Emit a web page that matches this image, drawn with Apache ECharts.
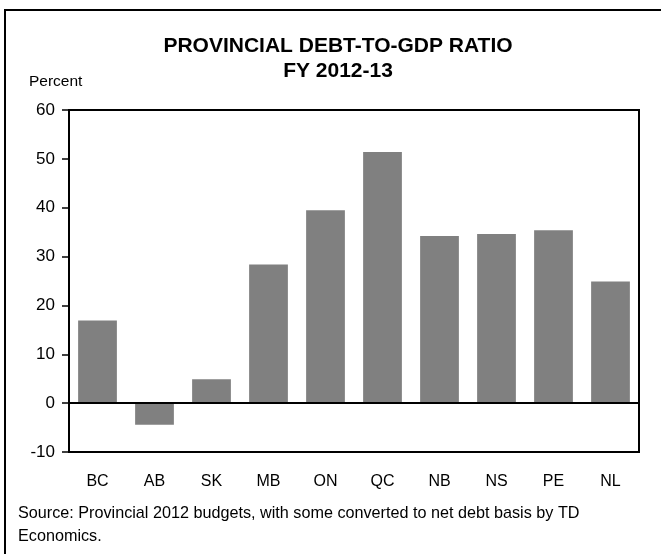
<!DOCTYPE html>
<html>
<head>
<meta charset="utf-8">
<script src="https://cdn.jsdelivr.net/npm/echarts@6/dist/echarts.min.js"></script>
<style>
  html, body { margin: 0; padding: 0; background: #fff; }
  #chart { width: 661px; height: 554px; }
</style>
</head>
<body>
<div id="chart"></div>
<script>
// Provincial net debt as a share of GDP, fiscal year 2012-13
const provinces = ['BC', 'AB', 'SK', 'MB', 'ON', 'QC', 'NB', 'NS', 'PE', 'NL'];
const debtToGdp = [16.9, -4.4, 4.9, 28.4, 39.5, 51.4, 34.2, 34.6, 35.4, 24.9];
const yTicks = { min: -10, max: 60, step: 10 };

const titleLines = ['PROVINCIAL DEBT-TO-GDP RATIO', 'FY 2012-13'];
const unitLabel = 'Percent';
const sourceLines = [
  'Source: Provincial 2012 budgets, with some converted to net debt basis by TD',
  'Economics.'
];

const FONT = 'Liberation Sans, Arial, sans-serif';

const chart = echarts.init(document.getElementById('chart'), null, { renderer: 'canvas' });

function label(text, x, y, opts) {
  return {
    type: 'text', silent: true,
    style: Object.assign({
      text: text, x: x, y: y,
      fontFamily: FONT, fontSize: 16, fill: '#000',
      align: 'left', verticalAlign: 'middle'
    }, opts || {})
  };
}

chart.setOption({
  backgroundColor: '#ffffff',
  animation: false,
  grid: {
    left: 69, right: 22, top: 110, bottom: 102,
    show: true, borderColor: '#000', borderWidth: 2, backgroundColor: 'transparent'
  },
  xAxis: {
    type: 'category',
    data: provinces,
    axisLine: { show: false },
    axisTick: { show: false },
    axisLabel: { color: '#000', fontFamily: FONT, fontSize: 16, margin: 22 },
    splitLine: { show: false }
  },
  yAxis: {
    type: 'value',
    min: yTicks.min, max: yTicks.max, interval: yTicks.step,
    axisLine: { show: true, lineStyle: { color: '#000', width: 2 } },
    axisTick: { show: true, length: 7, lineStyle: { color: '#000', width: 1.5 } },
    axisLabel: { color: '#000', fontFamily: FONT, fontSize: 17, margin: 14 },
    splitLine: { show: false }
  },
  series: [{
    type: 'bar',
    data: debtToGdp,
    barCategoryGap: '32%',
    itemStyle: { color: '#808080' },
    markLine: {
      silent: true,
      symbol: 'none',
      label: { show: false },
      lineStyle: { color: '#000', width: 2, type: 'solid' },
      data: [{ yAxis: 0 }]
    }
  }],
  graphic: [
    {
      type: 'rect', silent: true,
      shape: { x: 5, y: 10, width: 680, height: 600 },
      style: { fill: 'none', stroke: '#000', lineWidth: 2 }
    },
    label(titleLines[0], 338, 46, { fontWeight: 'bold', fontSize: 21, align: 'center' }),
    label(titleLines[1], 338, 71, { fontWeight: 'bold', fontSize: 21, align: 'center' }),
    label(unitLabel, 29, 82, { fontSize: 15.5 }),
    label(sourceLines[0], 18, 514, { fontSize: 16.2 }),
    label(sourceLines[1], 18, 537, { fontSize: 16.2 })
  ]
});
</script>
</body>
</html>
